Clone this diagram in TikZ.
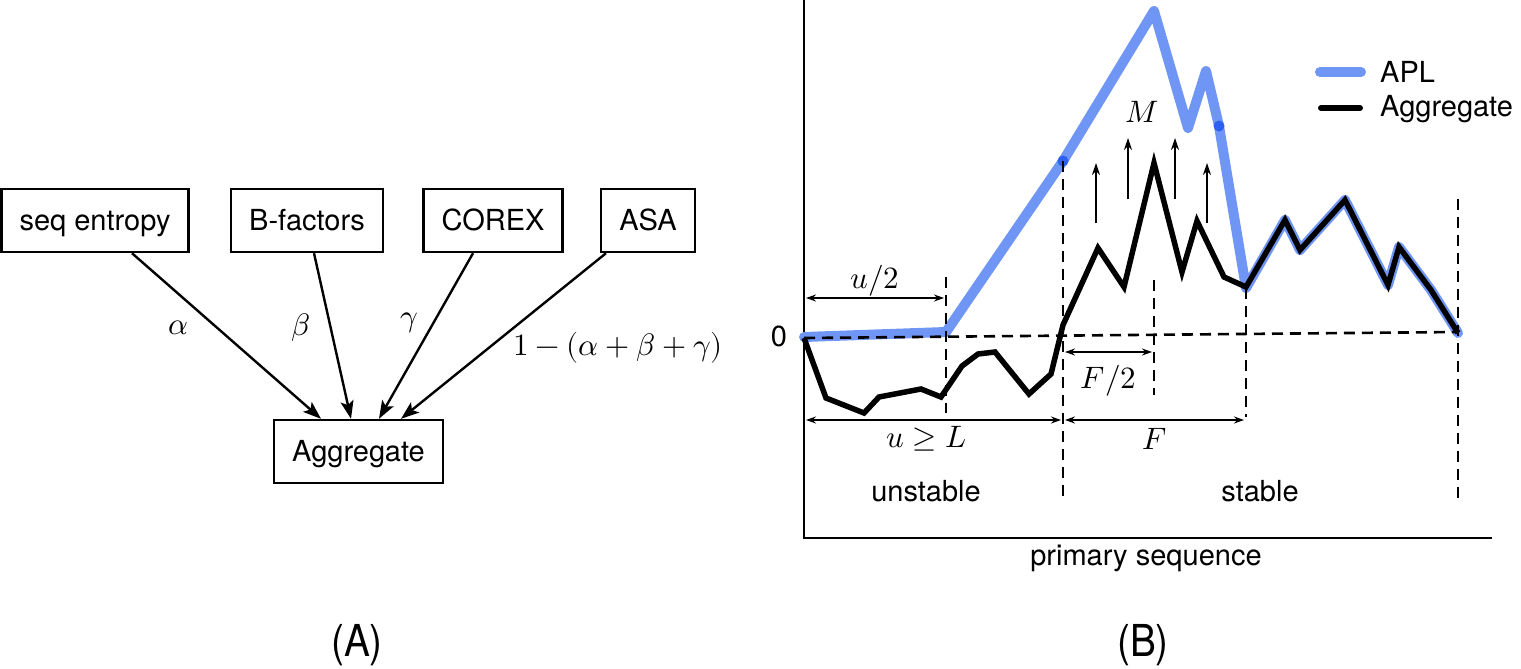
\documentclass[tikz,border=0pt]{standalone}
\usepackage{fontspec}
\usepackage{unicode-math}
\setmainfont{TeX Gyre Heros}
\setmathfont{Latin Modern Math}
\usetikzlibrary{arrows.meta}
\definecolor{aplblue}{RGB}{112,150,245}
\definecolor{dotblue}{RGB}{45,95,240}
\newcommand{\txtsize}{\fontsize{29}{34}\selectfont}
\newcommand{\wtsize}{\fontsize{31}{36}\selectfont}
\newcommand{\capsize}{\fontsize{44}{50}\selectfont}

\begin{document}
\begin{tikzpicture}[x=1pt,y=-1pt,
    box/.style={draw,line width=2.4pt,font=\txtsize,minimum height=63pt,
        inner xsep=18pt,text height=20pt,text depth=1pt},
    feed/.style={line width=2.4pt,-{Stealth[length=18pt,width=13pt,inset=4pt]}},
    wt/.style={font=\wtsize,inner sep=0pt},
    guide/.style={line width=2.6pt,dash pattern=on 11pt off 7pt},
    dim/.style={line width=2pt,shorten <=2pt,shorten >=2pt,
        {Stealth[length=10pt,width=7pt]}-{Stealth[length=10pt,width=7pt]}},
    lift/.style={line width=2.2pt,-{Stealth[length=12pt,width=8pt]}},
    apl/.style={line width=10pt,aplblue,line cap=round,line join=round},
    aggline/.style={line width=5.5pt,line join=miter},
    lbl/.style={font=\txtsize,inner sep=0pt}]
  \useasboundingbox (0,0) rectangle (1521,669);

  % (A) the four scores and their weights
  \node[box] (seq) at (95,220.5) {seq entropy};
  \node[box] (bfac) at (307,220.5) {B-factors};
  \node[box] (corex) at (493,220.5) {COREX};
  \node[box] (asa) at (648,220.5) {ASA};
  \node[box] (aggr) at (358.5,451.5) {Aggregate};

  \draw[feed] ([xshift=37pt]seq.south) -- ([xshift=-37.5pt]aggr.north)
    node[wt,pos=.45,xshift=-39pt] (walpha) {$\alpha$};
  \draw[feed] ([xshift=7pt]bfac.south) -- ([xshift=-7.5pt]aggr.north)
    node[wt,pos=.45,xshift=-30pt] (wbeta) {$\beta$};
  \draw[feed] ([xshift=-20pt]corex.south) -- ([xshift=20.5pt]aggr.north)
    node[wt,pos=.42,xshift=-24pt] (wgamma) {$\gamma$};
  \draw[feed] ([xshift=-42pt]asa.south) -- ([xshift=42.5pt]aggr.north)
    node[wt,pos=.57,xshift=129pt] (wrest) {$1-(\alpha+\beta+\gamma)$};

  \node[font=\capsize] (capA) at (357,645) {\scalebox{0.88}[1]{(A)}};

  % (B) the profile along the sequence
  \draw[line width=2.4pt] (804,0) -- (804,538) -- (1492,538);
  \node[lbl] (zero) at (779,336) {0};

  \draw[apl] (804,337) -- (946,332) -- (1063,161) -- (1154,11) -- (1188,128)
    -- (1206,71) -- (1219,126) -- (1246,288) -- (1285,220) -- (1300,250)
    -- (1345,200) -- (1388,285) -- (1399,247) -- (1431,290) -- (1458,333);
  \fill[dotblue] (1063,161) circle (5.5pt) (1219,126) circle (5.5pt);

  \draw[guide] (804,338) -- (1458,332);
  \foreach \x/\ya/\yb in {946/277/413,1063/161/500,1154/280/395,
      1246/288/417,1458/199/500}
    \draw[guide] (\x,\ya) -- (\x,\yb);

  \draw[aggline] (804,338) -- (826,398) -- (864,413) -- (879,397) -- (921,389)
    -- (941,397) -- (962,366) -- (978,354) -- (995,352) -- (1029,394)
    -- (1051,374) -- (1063,325) -- (1098,248) -- (1124,287) -- (1154,163)
    -- (1182,272) -- (1197,221) -- (1224,277) -- (1246,287) -- (1285,220)
    -- (1300,250) -- (1345,200) -- (1388,285) -- (1399,247) -- (1431,290)
    -- (1458,333);

  \foreach \x/\ya/\yb in {1096/223/163,1128/199/138,1175/199/138,1207/223/163}
    \draw[lift] (\x,\ya) -- (\x,\yb);
  \node[wt] (gain) at (1142,112) {$M$};

  \coordinate (u0) at (804,298);
  \coordinate (u1) at (946,298);
  \coordinate (h0) at (1063,352);
  \coordinate (h1) at (1154,352);
  \coordinate (l0) at (804,420);
  \coordinate (l1) at (1063,420);
  \coordinate (f1) at (1246,420);
  \draw[dim] (u0) -- (u1) node[wt,midway,yshift=17pt] (half) {$u/2$};
  \draw[dim] (h0) -- (h1) node[wt,midway,yshift=-29pt] (fhalf) {$F/2$};
  \draw[dim] (l0) -- (l1) node[wt,midway,xshift=-7pt,yshift=-19pt] (ulen) {$u\geq L$};
  \draw[dim] (l1) -- (f1) node[wt,midway,yshift=-19pt] (flen) {$F$};

  \node[lbl] (unst) at (926,491) {unstable};
  \node[lbl] (st) at (1260,491) {stable};
  \node[lbl] (xlab) at (1146,558) {primary sequence};

  % legend
  \draw[apl] (1320,72) -- (1361,72);
  \node[lbl,anchor=base west] (kapl) at (1380,82) {APL};
  \draw[line width=6pt,line cap=round] (1321,108) -- (1360,108);
  \node[lbl,anchor=base west] (kagg) at (1380,116) {Aggregate};

  \node[font=\capsize] (capB) at (1143,645) {\scalebox{0.88}[1]{(B)}};
\end{tikzpicture}
\end{document}
